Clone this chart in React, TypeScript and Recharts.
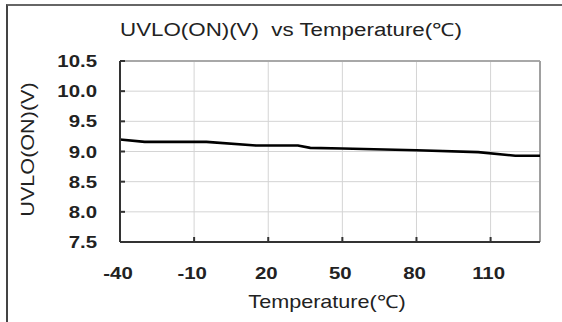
import React from "react";
import {
  LineChart,
  Line,
  XAxis,
  YAxis,
  CartesianGrid,
  ReferenceLine,
} from "recharts";

const temperatures = [-40, -30, -5, 15, 32, 37, 50, 80, 105, 120, 130];
const uvloOn = [9.2, 9.16, 9.16, 9.1, 9.1, 9.06, 9.05, 9.02, 8.99, 8.93, 8.93];
const xTicks = [-40, -10, 20, 50, 80, 110];
const yTicks = [7.5, 8.0, 8.5, 9.0, 9.5, 10.0, 10.5];

const data = temperatures.map((t, i) => ({ temp: t, uvlo: uvloOn[i] }));

const FONT = "'Liberation Sans', Arial, sans-serif";
const TEXT = "#222";
const STRETCH = 1.2;

const XTick = (props: any) => {
  const { x, y, payload } = props;
  return (
    <g>
      <line x1={x} x2={x} y1={y} y2={y - 5} stroke="#333" strokeWidth={2} />
      <text
        transform={`translate(${x - 2},${y + 37}) scale(${STRETCH},1)`}
        textAnchor="middle"
        fontFamily={FONT}
        fontSize={17}
        fontWeight="bold"
        fill={TEXT}
      >
        {payload.value}
      </text>
    </g>
  );
};

const YTick = (props: any) => {
  const { x, y, payload } = props;
  return (
    <g>
      <line x1={x} x2={x + 5} y1={y} y2={y} stroke="#333" strokeWidth={2} />
      <text
        transform={`translate(${x - 23},${y + 6}) scale(${STRETCH},1)`}
        textAnchor="end"
        fontFamily={FONT}
        fontSize={17}
        fontWeight="bold"
        fill={TEXT}
      >
        {Number(payload.value).toFixed(1)}
      </text>
    </g>
  );
};

const XTitle = (props: any) => {
  const { viewBox } = props;
  const cx = viewBox.x + viewBox.width / 2 - 3;
  return (
    <text
      transform={`translate(${cx},${viewBox.y + 66}) scale(${STRETCH},1)`}
      textAnchor="middle"
      fontFamily={FONT}
      fontSize={18}
      fill={TEXT}
    >
      Temperature(℃)
    </text>
  );
};

const YTitle = (props: any) => {
  const { viewBox } = props;
  const cy = viewBox.y + viewBox.height / 2 - 2;
  return (
    <text
      transform={`translate(34,${cy}) rotate(-90) scale(${STRETCH},1)`}
      textAnchor="middle"
      fontFamily={FONT}
      fontSize={18}
      fill={TEXT}
    >
      UVLO(ON)(V)
    </text>
  );
};

export default function App() {
  return (
    <div style={{ position: "absolute", left: 0, top: 0, width: 562, height: 322, background: "#fff" }}>
      <LineChart
        width={562}
        height={322}
        data={data}
        margin={{ top: 61, right: 22, bottom: 0, left: 0 }}
      >
        <CartesianGrid stroke="#d4d4d4" />
        <XAxis
          dataKey="temp"
          type="number"
          domain={[-40, 130]}
          ticks={xTicks}
          height={80}
          tickSize={0}
          tickMargin={0}
          tick={<XTick />}
          stroke="#333"
          strokeWidth={2}
          label={<XTitle />}
        />
        <YAxis
          type="number"
          domain={[7.5, 10.5]}
          ticks={yTicks}
          width={120}
          tickSize={0}
          tickMargin={0}
          tick={<YTick />}
          stroke="#333"
          strokeWidth={2}
          label={<YTitle />}
        />
        <ReferenceLine y={10.5} stroke="#a8a8a8" strokeWidth={2} />
        <ReferenceLine x={130} stroke="#a0a0a0" strokeWidth={2} />
        <Line
          type="linear"
          dataKey="uvlo"
          stroke="#000"
          strokeWidth={2.6}
          dot={false}
          isAnimationActive={false}
        />
      </LineChart>
      <div
        style={{
          position: "absolute",
          left: 6,
          top: 4,
          width: 556,
          height: 318,
          borderTop: "2px solid #666",
          borderLeft: "2px solid #444",
          boxSizing: "border-box",
          pointerEvents: "none",
        }}
      />
      <div
        style={{
          position: "absolute",
          left: 0,
          top: 17,
          width: 582,
          textAlign: "center",
          fontFamily: FONT,
          fontSize: 18,
          color: TEXT,
          whiteSpace: "pre",
          transform: "scaleX(1.24)",
          transformOrigin: "291px 0",
          pointerEvents: "none",
        }}
      >
        UVLO(ON)(V)  vs Temperature(℃)
      </div>
    </div>
  );
}
